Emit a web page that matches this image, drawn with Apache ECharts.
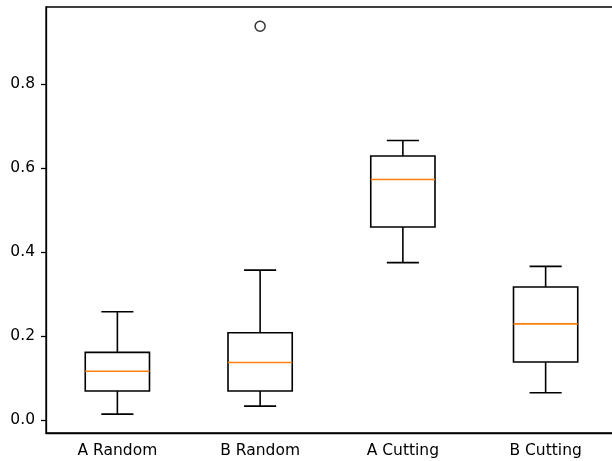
<!DOCTYPE html>
<html>
<head>
<meta charset="utf-8">
<script src="https://cdn.jsdelivr.net/npm/echarts@6/dist/echarts.min.js"></script>
<style>html,body{margin:0;padding:0;background:#fff}#c{width:612px;height:461px}</style>
</head>
<body>
<div id="c"></div>
<script>
var categories = ['A Random', 'B Random', 'A Cutting', 'B Cutting'];
var whiskerLow = [0.014, 0.033, 0.375, 0.065];
var q1 = [0.069, 0.069, 0.460, 0.138];
var median = [0.116, 0.137, 0.573, 0.229];
var q3 = [0.161, 0.208, 0.629, 0.317];
var whiskerHigh = [0.258, 0.357, 0.666, 0.366];
var outliers = [[1, 0.938]];
var yTicks = [0, 0.2, 0.4, 0.6, 0.8];

var boxData = categories.map(function (c, i) {
  return [i, whiskerLow[i], q1[i], median[i], q3[i], whiskerHigh[i]];
});

var FONT = 'DejaVu Sans';
var chart = echarts.init(document.getElementById('c'), null, {renderer: 'canvas'});

function renderBox(params, api) {
  var i = api.value(0);
  var band = api.size([1, 0])[0];
  var hw = band * 0.45 / 2;
  var cw = hw / 2;
  var pLo = api.coord([i, api.value(1)]);
  var pQ1 = api.coord([i, api.value(2)]);
  var pMed = api.coord([i, api.value(3)]);
  var pQ3 = api.coord([i, api.value(4)]);
  var pHi = api.coord([i, api.value(5)]);
  var x = pQ1[0];
  var black = {stroke: '#000', lineWidth: 1.6, fill: null};
  return {
    type: 'group',
    children: [
      {type: 'line', shape: {x1: x, y1: pQ1[1], x2: x, y2: pLo[1]}, style: black},
      {type: 'line', shape: {x1: x, y1: pQ3[1], x2: x, y2: pHi[1]}, style: black},
      {type: 'line', shape: {x1: x - cw, y1: pLo[1], x2: x + cw, y2: pLo[1]}, style: black},
      {type: 'line', shape: {x1: x - cw, y1: pHi[1], x2: x + cw, y2: pHi[1]}, style: black},
      {type: 'rect', shape: {x: x - hw, y: pQ3[1], width: hw * 2, height: pQ1[1] - pQ3[1]}, style: {stroke: '#000', lineWidth: 1.6, fill: 'none'}},
      {type: 'line', shape: {x1: x - hw, y1: pMed[1], x2: x + hw, y2: pMed[1]}, style: {stroke: '#ff7f0e', lineWidth: 1.6}}
    ]
  };
}

chart.setOption({
  animation: false,
  backgroundColor: '#fff',
  grid: {left: 46, top: 7, width: 571, height: 426, show: true, borderColor: '#000', borderWidth: 1.3,
    backgroundColor: 'transparent', outerBoundsMode: 'none', containLabel: false},
  xAxis: {
    type: 'category',
    data: categories,
    boundaryGap: true,
    axisLine: {onZero: false, lineStyle: {color: '#000', width: 1.3}},
    axisTick: {alignWithLabel: true, length: 5, lineStyle: {color: '#000', width: 1.3}},
    axisLabel: {color: '#000', fontFamily: FONT, fontSize: 15.5, margin: 10},
    splitLine: {show: false}
  },
  yAxis: {
    type: 'value',
    min: -0.031,
    max: 0.984,
    axisLine: {show: true, onZero: false, lineStyle: {color: '#000', width: 1.3}},
    axisTick: {show: true, length: 5, customValues: yTicks, lineStyle: {color: '#000', width: 1.3}},
    axisLabel: {color: '#000', fontFamily: FONT, fontSize: 15.5, margin: 11, customValues: yTicks,
      formatter: function (v) { return v.toFixed(1); }},
    splitLine: {show: false}
  },
  series: [
    {type: 'custom', renderItem: renderBox, data: boxData, encode: {x: 0, y: [1, 2, 3, 4, 5]}, z: 3},
    {type: 'scatter', data: outliers, symbol: 'circle', symbolSize: 10,
      itemStyle: {color: 'rgba(0,0,0,0)', borderColor: '#000', borderWidth: 1.5}, z: 4}
  ]
});
</script>
</body>
</html>
